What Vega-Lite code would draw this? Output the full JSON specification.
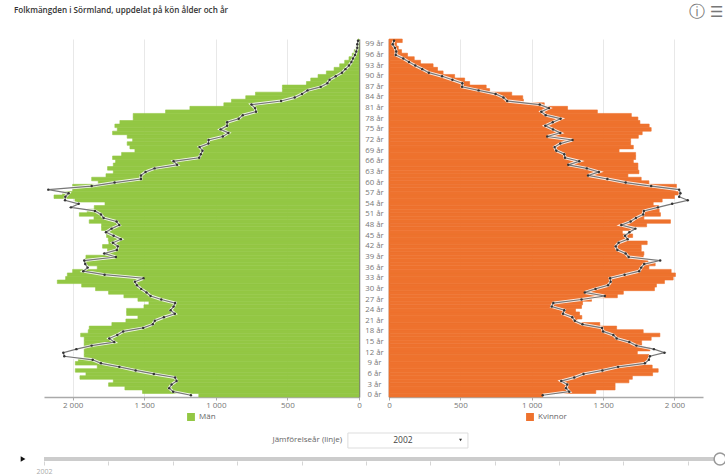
{
"$schema":"https://vega.github.io/schema/vega-lite/v6.json",
"padding":{"left":14,"top":2,"right":0,"bottom":0},
"background":"white",
"config":{"font":"Open Sans","view":{"stroke":null},"concat":{"spacing":0},"axis":{"labelFontSize":8,"labelColor":"#777777","titleColor":"#777777"},"legend":{"labelFontSize":8,"labelColor":"#666666","symbolType":"square","symbolSize":40,"title":null,"layout":{"bottom":{"anchor":"middle","direction":"horizontal"}}}},
"datasets":{"rows":[
{"alder":0,"man":1119,"kvinna":1077,"man2002":1174,"kvinna2002":1077},{"alder":1,"man":1512,"kvinna":1449,"man2002":1298,"kvinna2002":1263},{"alder":2,"man":1635,"kvinna":1584,"man2002":1326,"kvinna2002":1240},{"alder":3,"man":1749,"kvinna":1584,"man2002":1309,"kvinna2002":1249},{"alder":4,"man":1716,"kvinna":1681,"man2002":1274,"kvinna2002":1207},{"alder":5,"man":1949,"kvinna":1705,"man2002":1284,"kvinna2002":1298},{"alder":6,"man":1907,"kvinna":1847,"man2002":1433,"kvinna2002":1363},{"alder":7,"man":1981,"kvinna":1886,"man2002":1560,"kvinna2002":1495},{"alder":8,"man":1828,"kvinna":1844,"man2002":1674,"kvinna2002":1605},{"alder":9,"man":1981,"kvinna":1793,"man2002":1802,"kvinna2002":1793},
{"alder":10,"man":1960,"kvinna":1809,"man2002":1860,"kvinna2002":1821},{"alder":11,"man":1919,"kvinna":1821,"man2002":2058,"kvinna2002":1828},{"alder":12,"man":1919,"kvinna":1740,"man2002":2065,"kvinna2002":1930},{"alder":13,"man":1919,"kvinna":1828,"man2002":1974,"kvinna2002":1856},{"alder":14,"man":1919,"kvinna":1770,"man2002":1867,"kvinna2002":1733},{"alder":15,"man":1919,"kvinna":1770,"man2002":1709,"kvinna2002":1684},{"alder":16,"man":1919,"kvinna":1837,"man2002":1744,"kvinna2002":1595},{"alder":17,"man":1944,"kvinna":1898,"man2002":1688,"kvinna2002":1572},{"alder":18,"man":1891,"kvinna":1781,"man2002":1647,"kvinna2002":1500},{"alder":19,"man":1884,"kvinna":1595,"man2002":1507,"kvinna2002":1493},
{"alder":20,"man":1726,"kvinna":1477,"man2002":1440,"kvinna2002":1356},{"alder":21,"man":1628,"kvinna":1316,"man2002":1426,"kvinna2002":1302},{"alder":22,"man":1544,"kvinna":1351,"man2002":1363,"kvinna2002":1284},{"alder":23,"man":1623,"kvinna":1335,"man2002":1286,"kvinna2002":1219},{"alder":24,"man":1623,"kvinna":1307,"man2002":1316,"kvinna2002":1228},{"alder":25,"man":1502,"kvinna":1349,"man2002":1295,"kvinna2002":1140},{"alder":26,"man":1467,"kvinna":1356,"man2002":1284,"kvinna2002":1151},{"alder":27,"man":1544,"kvinna":1419,"man2002":1381,"kvinna2002":1349},{"alder":28,"man":1642,"kvinna":1600,"man2002":1456,"kvinna2002":1512},{"alder":29,"man":1749,"kvinna":1642,"man2002":1484,"kvinna2002":1372},
{"alder":30,"man":1840,"kvinna":1860,"man2002":1521,"kvinna2002":1447},{"alder":31,"man":1937,"kvinna":1874,"man2002":1551,"kvinna2002":1535},{"alder":32,"man":2107,"kvinna":1930,"man2002":1565,"kvinna2002":1553},{"alder":33,"man":2049,"kvinna":1991,"man2002":1505,"kvinna2002":1549},{"alder":34,"man":2037,"kvinna":2007,"man2002":1777,"kvinna2002":1651},{"alder":35,"man":2000,"kvinna":1977,"man2002":1926,"kvinna2002":1753},{"alder":36,"man":1828,"kvinna":1821,"man2002":1895,"kvinna2002":1767},{"alder":37,"man":1907,"kvinna":1865,"man2002":1912,"kvinna2002":1788},{"alder":38,"man":1914,"kvinna":1814,"man2002":1919,"kvinna2002":1900},{"alder":39,"man":1907,"kvinna":1781,"man2002":1698,"kvinna2002":1679},
{"alder":40,"man":1758,"kvinna":1786,"man2002":1779,"kvinna2002":1658},{"alder":41,"man":1756,"kvinna":1767,"man2002":1691,"kvinna2002":1600},{"alder":42,"man":1791,"kvinna":1767,"man2002":1684,"kvinna2002":1588},{"alder":43,"man":1747,"kvinna":1809,"man2002":1719,"kvinna2002":1609},{"alder":44,"man":1751,"kvinna":1674,"man2002":1663,"kvinna2002":1672},{"alder":45,"man":1763,"kvinna":1707,"man2002":1714,"kvinna2002":1653},{"alder":46,"man":1767,"kvinna":1635,"man2002":1767,"kvinna2002":1684},{"alder":47,"man":1798,"kvinna":1712,"man2002":1728,"kvinna2002":1726},{"alder":48,"man":1798,"kvinna":1805,"man2002":1674,"kvinna2002":1628},{"alder":49,"man":1884,"kvinna":1972,"man2002":1693,"kvinna2002":1693},
{"alder":50,"man":1851,"kvinna":1786,"man2002":1784,"kvinna2002":1730},{"alder":51,"man":1953,"kvinna":1902,"man2002":1802,"kvinna2002":1781},{"alder":52,"man":1898,"kvinna":1893,"man2002":1844,"kvinna2002":1786},{"alder":53,"man":1849,"kvinna":1891,"man2002":2012,"kvinna2002":1884},{"alder":54,"man":1774,"kvinna":1851,"man2002":1958,"kvinna2002":1984},{"alder":55,"man":1984,"kvinna":1914,"man2002":2053,"kvinna2002":2093},{"alder":56,"man":2130,"kvinna":2000,"man2002":2051,"kvinna2002":2033},{"alder":57,"man":2070,"kvinna":2030,"man2002":2028,"kvinna2002":2042},{"alder":58,"man":2000,"kvinna":2007,"man2002":2170,"kvinna2002":2033},{"alder":59,"man":2000,"kvinna":2014,"man2002":1867,"kvinna2002":1837},
{"alder":60,"man":1821,"kvinna":1821,"man2002":1707,"kvinna2002":1658},{"alder":61,"man":1867,"kvinna":1767,"man2002":1523,"kvinna2002":1530},{"alder":62,"man":1767,"kvinna":1674,"man2002":1523,"kvinna2002":1395},{"alder":63,"man":1716,"kvinna":1751,"man2002":1491,"kvinna2002":1470},{"alder":64,"man":1756,"kvinna":1744,"man2002":1428,"kvinna2002":1386},{"alder":65,"man":1716,"kvinna":1744,"man2002":1270,"kvinna2002":1256},{"alder":66,"man":1700,"kvinna":1712,"man2002":1295,"kvinna2002":1333},{"alder":67,"man":1721,"kvinna":1728,"man2002":1116,"kvinna2002":1233},{"alder":68,"man":1658,"kvinna":1728,"man2002":1105,"kvinna2002":1228},{"alder":69,"man":1565,"kvinna":1612,"man2002":1093,"kvinna2002":1172},
{"alder":70,"man":1600,"kvinna":1712,"man2002":1114,"kvinna2002":1160},{"alder":71,"man":1619,"kvinna":1693,"man2002":1051,"kvinna2002":1200},{"alder":72,"man":1581,"kvinna":1693,"man2002":1051,"kvinna2002":1286},{"alder":73,"man":1619,"kvinna":1747,"man2002":951,"kvinna2002":1109},{"alder":74,"man":1721,"kvinna":1774,"man2002":912,"kvinna2002":1200},{"alder":75,"man":1688,"kvinna":1837,"man2002":967,"kvinna2002":1149},{"alder":76,"man":1705,"kvinna":1823,"man2002":921,"kvinna2002":1095},{"alder":77,"man":1670,"kvinna":1758,"man2002":921,"kvinna2002":1147},{"alder":78,"man":1577,"kvinna":1744,"man2002":840,"kvinna2002":1202},{"alder":79,"man":1577,"kvinna":1698,"man2002":812,"kvinna2002":1098},
{"alder":80,"man":1351,"kvinna":1460,"man2002":719,"kvinna2002":1067},{"alder":81,"man":1181,"kvinna":1251,"man2002":726,"kvinna2002":1121},{"alder":82,"man":944,"kvinna":1088,"man2002":751,"kvinna2002":1056},{"alder":83,"man":891,"kvinna":942,"man2002":544,"kvinna2002":828},{"alder":84,"man":791,"kvinna":937,"man2002":449,"kvinna2002":802},{"alder":85,"man":723,"kvinna":860,"man2002":398,"kvinna2002":747},{"alder":86,"man":535,"kvinna":705,"man2002":360,"kvinna2002":628},{"alder":87,"man":535,"kvinna":681,"man2002":267,"kvinna2002":512},{"alder":88,"man":367,"kvinna":565,"man2002":221,"kvinna2002":514},{"alder":89,"man":337,"kvinna":530,"man2002":205,"kvinna2002":444},
{"alder":90,"man":286,"kvinna":460,"man2002":163,"kvinna2002":372},{"alder":91,"man":228,"kvinna":379,"man2002":119,"kvinna2002":279},{"alder":92,"man":174,"kvinna":340,"man2002":95,"kvinna2002":233},{"alder":93,"man":135,"kvinna":309,"man2002":70,"kvinna2002":184},{"alder":94,"man":100,"kvinna":221,"man2002":53,"kvinna2002":140},{"alder":95,"man":70,"kvinna":177,"man2002":42,"kvinna2002":100},{"alder":96,"man":47,"kvinna":130,"man2002":28,"kvinna2002":47},{"alder":97,"man":33,"kvinna":88,"man2002":19,"kvinna2002":51},{"alder":98,"man":19,"kvinna":65,"man2002":12,"kvinna2002":42},{"alder":99,"man":12,"kvinna":53,"man2002":12,"kvinna2002":26},{"alder":100,"man":7,"kvinna":93,"man2002":7,"kvinna2002":35}
]},
"vconcat":[
{"width":676,"height":24,"data":{"values":[{}]},"layer":[
{"mark":{"type":"text","align":"left","baseline":"middle","fontWeight":600,"fontSize":8.1,"color":"#333333","text":"Folkmängden i Sörmland, uppdelat på kön ålder och år"},"encoding":{"x":{"datum":2001.07,"type":"quantitative","scale":{"domain":[2002,2023],"nice":false,"zero":false},"axis":null},"y":{"datum":9,"type":"quantitative","scale":{"domain":[24,0],"nice":false},"axis":null}}},
{"mark":{"type":"text","align":"center","baseline":"middle","fontSize":16,"font":"DejaVu Sans","color":"#777777","text":"ⓘ"},"encoding":{"x":{"datum":2022.28,"type":"quantitative"},"y":{"datum":10,"type":"quantitative"}}},
{"mark":{"type":"text","align":"center","baseline":"middle","fontSize":15,"font":"DejaVu Sans","color":"#777777","text":"☰"},"encoding":{"x":{"datum":2022.9,"type":"quantitative"},"y":{"datum":10,"type":"quantitative"}}}
]},
{"hconcat":[
{"width":315,"height":358,"data":{"name":"rows"},
"encoding":{"y":{"field":"alder","type":"ordinal","sort":"descending","scale":{"paddingInner":0,"paddingOuter":0},"axis":{"orient":"right","labels":false,"ticks":false,"title":null,"domainColor":"#777777","domainWidth":1.5,"grid":false,"minExtent":0,"maxExtent":0}}},
"layer":[
{"mark":{"type":"bar","stroke":"#93c744","strokeWidth":0.6},"encoding":{"x":{"field":"man","type":"quantitative","scale":{"domain":[0,2200],"reverse":true,"nice":false},"axis":{"title":null,"values":[0,500,1000,1500,2000],"grid":true,"gridColor":"#e8e8e8","domainColor":"#aaaaaa","domainWidth":1.5,"tickColor":"#aaaaaa","tickSize":3,"labelPadding":1,"labelFlush":false,"labelExpr":"replace(format(datum.value,','),',',' ')"}},"color":{"datum":"Män","scale":{"domain":["Män"],"range":["#93c744"]},"legend":{"orient":"bottom","offset":4}}}},
{"mark":{"type":"line","stroke":"#ffffff","strokeWidth":3,"opacity":0.85},"encoding":{"x":{"field":"man2002","type":"quantitative"},"order":{"field":"alder"}}},
{"mark":{"type":"line","stroke":"#777777","strokeWidth":1.2},"encoding":{"x":{"field":"man2002","type":"quantitative"},"order":{"field":"alder"}}},
{"mark":{"type":"point","filled":true,"color":"#333333","size":6,"opacity":1},"encoding":{"x":{"field":"man2002","type":"quantitative"}}}
]},
{"width":314,"height":358,"data":{"name":"rows"},
"encoding":{"y":{"field":"alder","type":"ordinal","sort":"descending","scale":{"paddingInner":0,"paddingOuter":0},"axis":{"orient":"left","title":null,"ticks":false,"grid":false,"domainColor":"#777777","domainWidth":1.5,"labelAngle":0,"labelAlign":"center","labelPadding":15,"labelFontSize":7.8,"values":[0,3,6,9,12,15,18,21,24,27,30,33,36,39,42,45,48,51,54,57,60,63,66,69,72,75,78,81,84,87,90,93,96,99],"labelExpr":"datum.value+' år'"}}},
"layer":[
{"mark":{"type":"bar","stroke":"#ee722e","strokeWidth":0.6},"encoding":{"x":{"field":"kvinna","type":"quantitative","scale":{"domain":[0,2200],"nice":false},"axis":{"title":null,"values":[0,500,1000,1500,2000],"grid":true,"gridColor":"#e8e8e8","domainColor":"#aaaaaa","domainWidth":1.5,"tickColor":"#aaaaaa","tickSize":3,"labelPadding":1,"labelFlush":false,"labelExpr":"replace(format(datum.value,','),',',' ')"}},"color":{"datum":"Kvinnor","scale":{"domain":["Kvinnor"],"range":["#ee722e"]},"legend":{"orient":"bottom","offset":4}}}},
{"mark":{"type":"line","stroke":"#ffffff","strokeWidth":3,"opacity":0.85},"encoding":{"x":{"field":"kvinna2002","type":"quantitative"},"order":{"field":"alder"}}},
{"mark":{"type":"line","stroke":"#777777","strokeWidth":1.2},"encoding":{"x":{"field":"kvinna2002","type":"quantitative"},"order":{"field":"alder"}}},
{"mark":{"type":"point","filled":true,"color":"#333333","size":6,"opacity":1},"encoding":{"x":{"field":"kvinna2002","type":"quantitative"}}}
]}
],"spacing":30,"bounds":"flush","resolve":{"scale":{"color":"independent","y":"independent","x":"independent"}}},
{"width":676,"height":29,"layer":[
{"data":{"values":[{}]},"mark":{"type":"text","align":"right","baseline":"middle","fontSize":8,"color":"#666666","text":"Jämförelseår (linje)"},"encoding":{"x":{"datum":2011.26,"type":"quantitative","scale":{"domain":[2002,2023],"nice":false,"zero":false},"axis":{"values":[2002,2003,2004,2005,2006,2007,2008,2009,2010,2011,2012,2013,2014,2015,2016,2017,2018,2019,2020,2021,2022,2023],"title":null,"domain":false,"grid":false,"tickColor":"#d5d5d5","tickSize":4,"labelColor":"#aaaaaa","labelFontSize":7,"labelPadding":2,"labelFlush":false,"labelOverlap":false,"format":"d","labelExpr":"datum.value==2002||datum.value==2023?format(datum.value,'d'):''"}},"y":{"datum":21,"type":"quantitative","scale":{"domain":[0,29],"nice":false},"axis":null}}},
{"data":{"values":[{}]},"mark":{"type":"rect","fill":"white","stroke":"#dddddd","strokeWidth":1},"encoding":{"x":{"datum":2011.44,"type":"quantitative"},"x2":{"datum":2015.17},"y":{"datum":28,"type":"quantitative"},"y2":{"datum":13}}},
{"data":{"values":[{}]},"mark":{"type":"text","align":"center","baseline":"middle","fontSize":8.5,"color":"#444444","text":"2002"},"encoding":{"x":{"datum":2013.15,"type":"quantitative"},"y":{"datum":21,"type":"quantitative"}}},
{"data":{"values":[{}]},"mark":{"type":"point","shape":"triangle-down","filled":true,"color":"#333333","size":9,"opacity":1},"encoding":{"x":{"datum":2014.94,"type":"quantitative"},"y":{"datum":21,"type":"quantitative"}}},
{"data":{"values":[{}]},"mark":{"type":"rule","color":"#cccccc","strokeWidth":4},"encoding":{"x":{"datum":2002,"type":"quantitative"},"x2":{"datum":2023},"y":{"datum":2,"type":"quantitative"}}},
{"data":{"values":[{}]},"mark":{"type":"point","shape":"triangle-right","filled":true,"color":"#111111","size":30,"opacity":1},"encoding":{"x":{"datum":2001.35,"type":"quantitative"},"y":{"datum":2,"type":"quantitative"}}},
{"data":{"values":[{}]},"mark":{"type":"point","filled":true,"fill":"white","stroke":"#999999","strokeWidth":1.5,"size":140,"opacity":1},"encoding":{"x":{"datum":2023,"type":"quantitative"},"y":{"datum":2,"type":"quantitative"}}}
]}
],"spacing":8
}
